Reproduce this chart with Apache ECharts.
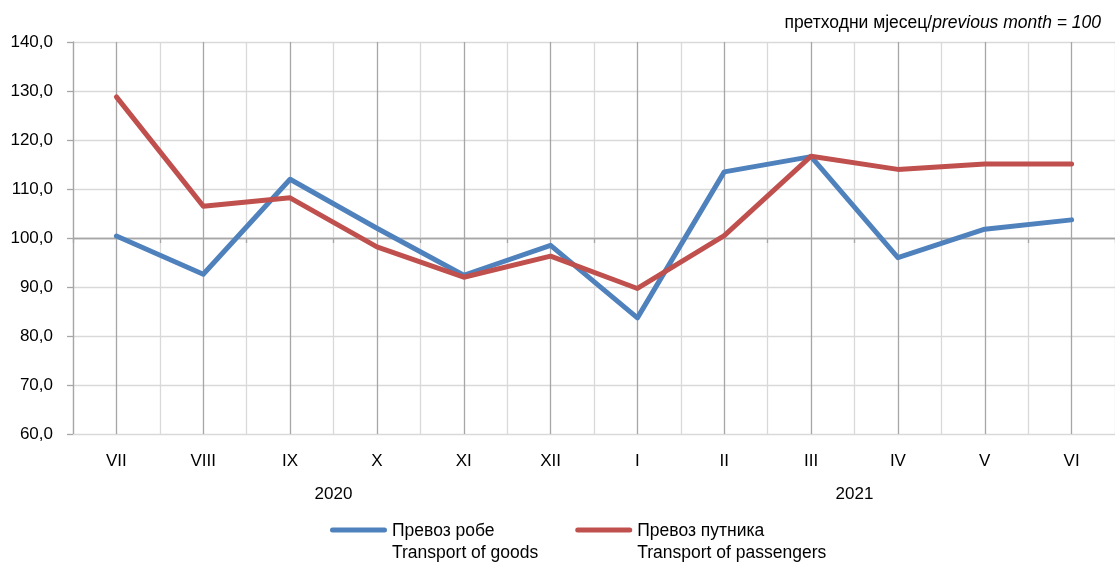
<!DOCTYPE html>
<html>
<head>
<meta charset="utf-8">
<script src="https://cdn.jsdelivr.net/npm/echarts@6/dist/echarts.min.js"></script>
<style>
html,body{margin:0;padding:0;background:#fff;}
#c{width:1115px;height:564px;}
</style>
</head>
<body>
<div id="c"></div>
<script>
const months = ['VII','VIII','IX','X','XI','XII','I','II','III','IV','V','VI'];
const years = ['2020','2021'];
const goods = [100.4, 92.6, 112.0, 102.0, 92.4, 98.5, 83.7, 113.5, 116.6, 96.0, 101.8, 103.7];
const passengers = [128.8, 106.5, 108.2, 98.2, 92.0, 96.3, 89.7, 100.5, 116.7, 114.0, 115.1, 115.1];
const nameGoods = 'Превоз робе\nTransport of goods';
const namePass = 'Превоз путника\nTransport of passengers';
const yTicks = [60, 70, 80, 90, 100, 110, 120, 130, 140];

const FONT = "'Liberation Sans', Arial, sans-serif";
const light = '#d9d9d9';
const dark = '#a6a6a6';
const hColors = yTicks.map(v => v === 100 ? dark : light);
const vColors = [light, dark];
const legendIcon = 'path://M0,0h0.01v0.01h-0.01z M2.5,7.5 h52 a2.5,2.5 0 0 1 0,5 h-52 a2.5,2.5 0 0 1 0,-5 z M56.99,43.99h0.01v0.01h-0.01z';

const chart = echarts.init(document.getElementById('c'), null, {renderer: 'canvas'});
chart.setOption({
  animation: false,
  textStyle: {fontFamily: FONT},
  grid: {left: 73, right: 0, top: 42, bottom: 130, containLabel: false},
  xAxis: [
    {
      type: 'category', data: months, boundaryGap: true, position: 'bottom',
      axisLine: {show: true, lineStyle: {color: light, width: 1}},
      axisTick: {show: false},
      splitLine: {show: false},
      axisLabel: {color: '#000', fontSize: 17, margin: 19, interval: 0, fontFamily: FONT}
    },
    {
      type: 'category', data: years, boundaryGap: true, position: 'bottom', offset: 33,
      axisLine: {show: false}, axisTick: {show: false}, splitLine: {show: false},
      axisLabel: {color: '#000', fontSize: 17, margin: 19, fontFamily: FONT}
    },
    {
      type: 'value', min: 0, max: months.length * 2, interval: 1, show: true,
      axisLine: {show: false}, axisTick: {show: false}, axisLabel: {show: false},
      splitLine: {show: true, lineStyle: {color: vColors, width: 1.3}}
    },
    {
      type: 'category', data: months, boundaryGap: true, position: 'bottom', offset: -196,
      axisLine: {show: true, lineStyle: {color: dark, width: 1.3}},
      axisTick: {show: true, interval: 0, length: 5, inside: false, lineStyle: {color: dark, width: 1.3}},
      axisLabel: {show: false}, splitLine: {show: false}
    }
  ],
  yAxis: {
    type: 'value', min: 60, max: 140, interval: 10,
    axisLine: {show: true, lineStyle: {color: dark, width: 1.3}},
    axisTick: {show: true, length: 6, lineStyle: {color: dark, width: 1.3}},
    axisLabel: {color: '#000', fontSize: 17, margin: 20, fontFamily: FONT,
      formatter: v => v.toFixed(1).replace('.', ',')},
    splitLine: {show: true, lineStyle: {color: hColors, width: 1.3}}
  },
  legend: {
    left: 330, top: 520, padding: 0,
    itemWidth: 57, itemHeight: 44, itemGap: 37,
    icon: legendIcon,
    itemStyle: {borderWidth: 0},
    textStyle: {color: '#000', fontSize: 17.5, fontFamily: FONT, lineHeight: 22},
    data: [nameGoods, namePass]
  },
  graphic: [{
    type: 'text', right: 14, top: 14,
    style: {
      rich: {
        a: {fontFamily: FONT, fontSize: 17.5, fill: '#000'},
        b: {fontFamily: FONT, fontSize: 17.5, fontStyle: 'italic', fill: '#000'}
      },
      text: '{a|претходни мјесец/}{b|previous month = 100}'
    }
  }],
  series: [
    {
      name: nameGoods, type: 'line', data: goods, xAxisIndex: 0,
      showSymbol: false, symbol: 'none',
      lineStyle: {color: '#4f81bd', width: 5, join: 'round', cap: 'round'},
      itemStyle: {color: '#4f81bd'}
    },
    {
      name: namePass, type: 'line', data: passengers, xAxisIndex: 0,
      showSymbol: false, symbol: 'none',
      lineStyle: {color: '#c0504d', width: 5, join: 'round', cap: 'round'},
      itemStyle: {color: '#c0504d'}
    }
  ]
});
</script>
</body>
</html>
